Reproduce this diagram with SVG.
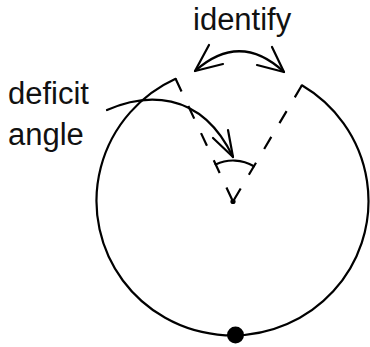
<svg xmlns="http://www.w3.org/2000/svg" width="370" height="347" viewBox="0 0 370 347">
<style>
.ln{fill:none;stroke:#000;stroke-width:2.2;stroke-linecap:round;stroke-linejoin:round}
.dash{fill:none;stroke:#000;stroke-width:2.2;stroke-dasharray:14 16}
.lbl{font-family:"Liberation Sans",Arial,sans-serif;font-size:31px;fill:#111}
</style>
<rect width="370" height="347" fill="#fff"/>
<g id="cone">
<path class="ln" d="M175.6,78.8 A136,134.5 0 1 0 301.9,85.3"/>
<path class="dash" d="M175.6,78.8 L233,201.5"/>
<path class="dash" d="M301.9,85.3 L233,201.5"/>
<path class="ln" d="M215.6,164.4 A41,41 0 0 1 253.9,166.2"/>
<circle cx="233" cy="201.5" r="2.6" fill="#000"/>
</g>
<g id="point">
<circle cx="235.5" cy="335" r="8.5" fill="#000"/>
</g>
<g id="label-identify">
<text class="lbl" x="193" y="29.5">identify</text>
</g>
<g id="label-deficit">
<text class="lbl" x="8" y="103.5">deficit</text>
<text class="lbl" x="8" y="145">angle</text>
</g>
<g id="connectors">
<path class="ln" d="M195,71 Q240,31 284,72"/>
<polyline class="ln" points="209,45 195,71 223,64"/>
<polyline class="ln" points="272,47 284,72 257,65"/>
<path class="ln" d="M107,110 C143,94 200,88 233,157"/>
<polyline class="ln" points="213,138 233,157 228,130"/>
</g>
</svg>
